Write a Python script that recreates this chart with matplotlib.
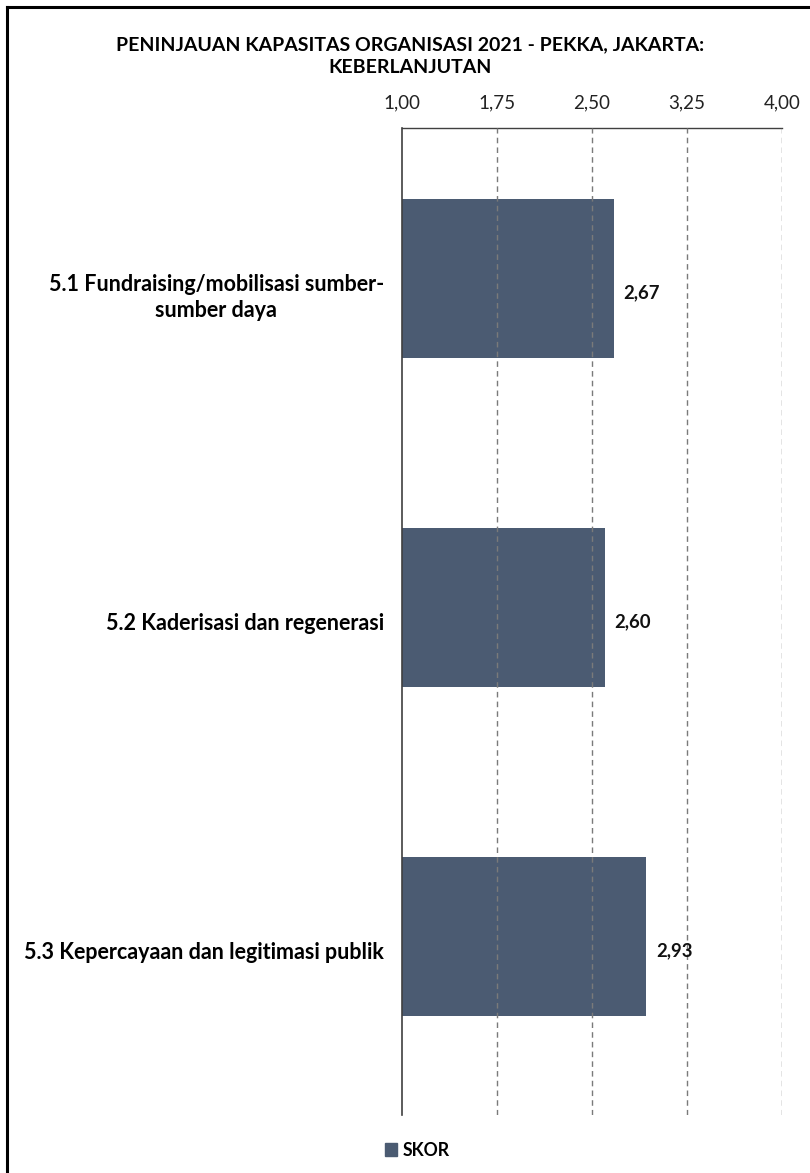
import matplotlib
matplotlib.use("Agg")
import matplotlib.pyplot as plt
from matplotlib.ticker import FixedLocator, FuncFormatter
from matplotlib.patches import Patch
from matplotlib.lines import Line2D

categories = ["5.1 Fundraising/mobilisasi sumber-\nsumber daya",
              "5.2 Kaderisasi dan regenerasi",
              "5.3 Kepercayaan dan legitimasi publik"]
scores = [2.67, 2.60, 2.93]
value_labels = ["2,67", "2,60", "2,93"]
xticks = [1.00, 1.75, 2.50, 3.25, 4.00]
title = "PENINJAUAN KAPASITAS ORGANISASI 2021 - PEKKA, JAKARTA:\nKEBERLANJUTAN"
series_name = "SKOR"

plt.rcParams['font.family'] = ['Lato', 'DejaVu Sans']
W, H = 810, 1173
fig = plt.figure(figsize=(W/100, H/100), dpi=100)

bar_color = "#4b5b72"
left, right, top, bottom = 402, 782, 128, 1115
ax = fig.add_axes([left/W, 1-bottom/H, (right-left)/W, (bottom-top)/H])

ypos = list(range(len(categories)))
bar_shift = 0.043
ax.barh([y - bar_shift for y in ypos], [s-1.0 for s in scores], left=1.0, height=0.485,
        color=bar_color, zorder=2)
ax.set_xlim(1.0, 4.0)
ax.set_ylim(2.5, -0.5)
ax.xaxis.set_major_locator(FixedLocator(xticks))
ax.xaxis.set_major_formatter(FuncFormatter(lambda v, p: f"{v:.2f}".replace(".", ",")))
ax.xaxis.tick_top()
ax.tick_params(axis='x', length=0, pad=12, labelsize=13.5, colors="#222222")
ax.set_yticks(ypos)
ax.set_yticklabels(categories, fontweight='bold', fontsize=15.5)
ax.tick_params(axis='y', length=0, pad=13)
for lbl in ax.get_yticklabels():
    lbl.set_multialignment('center')
    lbl.set_linespacing(1.3)

for x in xticks[1:]:
    ax.axvline(x, color="#7a7a7a", lw=1.0, ls=(0, (4, 3)), zorder=3)

for sp in ['right', 'bottom']:
    ax.spines[sp].set_visible(False)
ax.spines['left'].set_color("#404040")
ax.spines['left'].set_linewidth(1.2)
ax.spines['top'].set_color("#404040")
ax.spines['top'].set_linewidth(1.0)

for y, s, t in zip(ypos, scores, value_labels):
    ax.annotate(t, xy=(s, y), xytext=(7, 0), textcoords='offset points',
                va='center', ha='left', fontweight='bold', fontsize=13.3, color="#111111")

fig.text(410/W, 1-56/H, title, ha='center', va='center', fontweight='bold', fontsize=14,
         linespacing=1.4)

fig.legend(handles=[Patch(color=bar_color, label=series_name)],
           loc='center', bbox_to_anchor=(417/W, 1-1150/H), frameon=False,
           prop={'weight': 'bold', 'size': 12.7}, handlelength=0.7, handleheight=0.7,
           handletextpad=0.3)

# figure border (top and left)
fig.add_artist(Line2D([7/W, 7/W], [0, 1-7/H], color='black', lw=2.2, transform=fig.transFigure))
fig.add_artist(Line2D([7/W, 1], [1-7/H, 1-7/H], color='black', lw=2.2, transform=fig.transFigure))

fig.savefig("out.png", dpi=100)
